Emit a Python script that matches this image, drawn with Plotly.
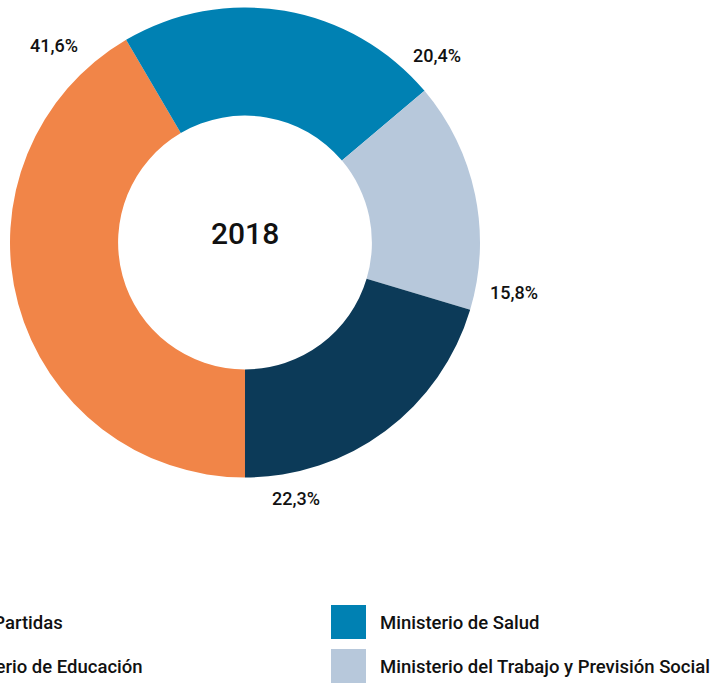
import plotly.graph_objects as go

# Datos
categorias = ["Otras Partidas", "Ministerio de Salud",
              "Ministerio del Trabajo y Previsión Social", "Ministerio de Educación"]
participacion = [41.6, 22.3, 15.8, 20.4]      # tamaño de cada sector
etiquetas = ["41,6%", "20,4%", "15,8%", "22,3%"]
anio = "2018"
colores = ["#F18548", "#0081B3", "#B7C8DB", "#0C3A58"]

# orden de la leyenda (filas x columnas)
orden_leyenda = [[0, 1], [3, 2]]

W, H = 715, 685
cx, cy, r = 245, 242.5, 235   # centro y radio del anillo en px
fuente = "Roboto"

fig = go.Figure(go.Pie(
    labels=categorias, values=participacion, sort=False,
    direction="clockwise", rotation=180, hole=0.54,
    marker=dict(colors=colores, line=dict(width=0)),
    textinfo="none", showlegend=False,
    domain=dict(x=[(cx - r) / W, (cx + r) / W], y=[1 - (cy + r) / H, 1 - (cy - r) / H]),
))

# etiquetas de porcentaje (centro en px)
pos_etiquetas = [(54, 46), (437, 56), (514, 293), (296, 499)]
anots = []
for txt, (px, py) in zip(etiquetas, pos_etiquetas):
    anots.append(dict(x=px / W, y=1 - py / H, xref="paper", yref="paper", text=txt,
                      xanchor="center", yanchor="middle", showarrow=False,
                      font=dict(family=fuente, size=18, color="#111111", weight=500)))

# texto central
anots.append(dict(x=cx / W, y=1 - 233 / H, xref="paper", yref="paper", text=anio,
                  xanchor="center", yanchor="middle", showarrow=False,
                  font=dict(family=fuente, size=30, color="#111111", weight=500)))

# leyenda manual con cuadros grandes
col_x = [-105, 331]
fila_y = [622, 666]
shapes = []
for i, fila in enumerate(orden_leyenda):
    for j, k in enumerate(fila):
        x0 = col_x[j]
        shapes.append(dict(type="rect", xref="paper", yref="paper",
                           x0=x0 / W, x1=(x0 + 35) / W,
                           y0=1 - (fila_y[i] + 17) / H, y1=1 - (fila_y[i] - 17) / H,
                           fillcolor=colores[k], line=dict(width=0)))
        anots.append(dict(x=(x0 + 47) / W, y=1 - (fila_y[i] + 1) / H, xref="paper", yref="paper",
                          xanchor="left", yanchor="middle", text=categorias[k], showarrow=False,
                          font=dict(family=fuente, size=18.5, color="#111111", weight=500)))

fig.update_layout(width=W, height=H, margin=dict(l=0, r=0, t=0, b=0),
                  paper_bgcolor="white", plot_bgcolor="white",
                  annotations=anots, shapes=shapes)

# sin margen del body para que el grafico quede en la esquina
fig.write_html("out.html", config={"displayModeBar": False},
               post_script="document.body.style.margin='0';")
